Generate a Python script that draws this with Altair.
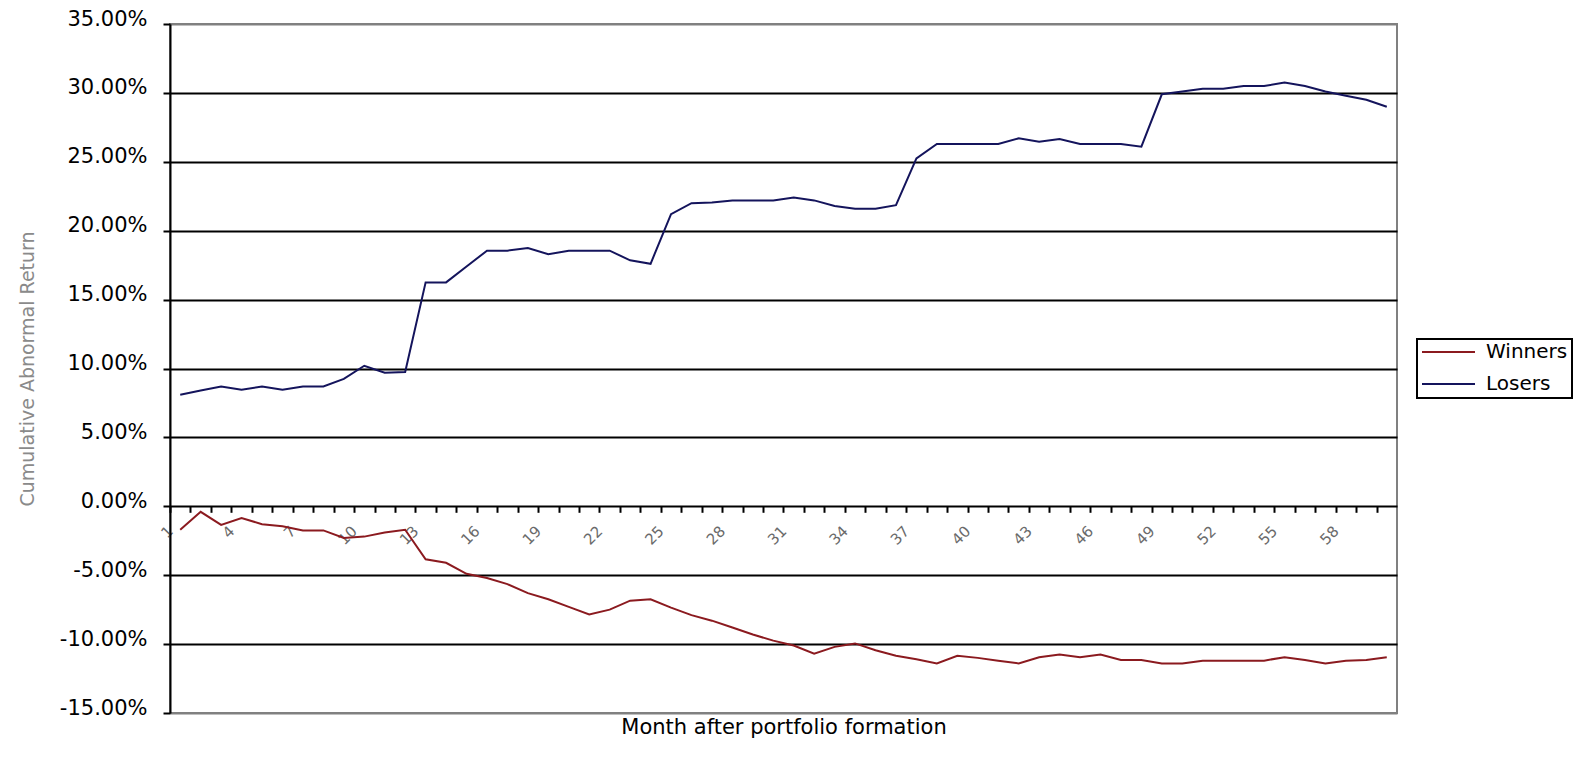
import altair as alt
import pandas as pd

# ---- data ----
months = list(range(1, 61))
winners = [-1.7, -0.4, -1.35, -0.85, -1.3, -1.45, -1.75, -1.75, -2.3, -2.2, -1.9, -1.7,
           -3.85, -4.1, -4.9, -5.2, -5.65, -6.3, -6.75, -7.3, -7.85, -7.5, -6.85, -6.75,
           -7.35, -7.9, -8.3, -8.8, -9.3, -9.75, -10.1, -10.7, -10.2, -9.95, -10.45, -10.85,
           -11.1, -11.4, -10.85, -11.0, -11.2, -11.4, -10.95, -10.75, -10.95, -10.75, -11.15, -11.15,
           -11.4, -11.4, -11.2, -11.2, -11.2, -11.2, -10.95, -11.15, -11.4, -11.2, -11.15, -10.95]
losers = [8.1, 8.4, 8.7, 8.45, 8.7, 8.45, 8.7, 8.7, 9.25, 10.2, 9.7, 9.75,
          16.25, 16.25, 17.4, 18.55, 18.55, 18.75, 18.3, 18.55, 18.55, 18.55, 17.85, 17.6,
          21.2, 22.0, 22.05, 22.2, 22.2, 22.2, 22.4, 22.2, 21.8, 21.6, 21.6, 21.85,
          25.25, 26.3, 26.3, 26.3, 26.3, 26.7, 26.45, 26.65, 26.3, 26.3, 26.3, 26.1,
          29.9, 30.1, 30.3, 30.3, 30.5, 30.5, 30.75, 30.5, 30.1, 29.8, 29.5, 29.0]
series_names = ["Winners", "Losers"]
series_colors = ["#8B1A1F", "#14145C"]
y_ticks = [-15, -10, -5, 0, 5, 10, 15, 20, 25, 30, 35]
y_min, y_max = -15, 35

x_title = "Month after portfolio formation"
y_title = "Cumulative Abnormal Return"

# ---- layout ----
W, H = 1227, 689
half_cat = W / len(months) / 2
zero_offset = -H * (0 - y_min) / (y_max - y_min)
axis_y_in_plot = H + zero_offset

df = pd.DataFrame({
    "Month": months * 2,
    "Return": winners + losers,
    "Series": ["Winners"] * len(months) + ["Losers"] * len(months),
})

x_axis = alt.Axis(
    values=months,
    tickOffset=-half_cat,
    labelExpr="(datum.value - 1) % 3 === 0 ? '' + datum.value : ''",
    labelAngle=-45,
    labelAlign="right",
    labelBaseline="middle",
    labelPadding=16,
    labelOverlap=False,
    labelFont="DejaVu Sans",
    labelFontSize=15,
    labelColor="#6a6a6a",
    tickSize=6,
    tickWidth=2,
    tickColor="black",
    domain=False,
    grid=False,
    offset=zero_offset,
    title=x_title,
    titleFont="DejaVu Sans",
    titleFontSize=21,
    titleFontWeight="normal",
    titleColor="black",
    titleBaseline="middle",
    titleY=703 - axis_y_in_plot,
)

y_axis = alt.Axis(
    values=y_ticks,
    labelExpr="(datum.value < 0 ? '-' + format(-datum.value, '.2f') : format(datum.value, '.2f')) + '%'",
    labelFont="DejaVu Sans",
    labelFontSize=21,
    labelColor="black",
    labelPadding=16,
    labelBaseline="middle",
    labelOffset=-5,
    tickSize=7,
    tickWidth=2,
    tickColor="black",
    domainColor="black",
    domainWidth=2,
    grid=True,
    gridColor={"condition": {"test": "datum.value === 35 || datum.value === -15", "value": "#808080"}, "value": "black"},
    gridWidth=2,
    title=y_title,
    titleFont="DejaVu Sans",
    titleFontSize=19,
    titleFontWeight="normal",
    titleColor="#8a8a8a",
    titleAngle=-90,
    titleAlign="center",
    titleBaseline="middle",
    titleX=-143,
    titleY=H / 2,
)

chart = alt.Chart(df).mark_line(strokeWidth=2).encode(
    x=alt.X("Month:Q", scale=alt.Scale(domain=[0.5, len(months) + 0.5], nice=False, zero=False), axis=x_axis),
    y=alt.Y("Return:Q", scale=alt.Scale(domain=[y_min, y_max], nice=False, zero=False), axis=y_axis),
    color=alt.Color(
        "Series:N",
        scale=alt.Scale(domain=series_names, range=series_colors),
        legend=alt.Legend(
            title=None,
            orient="none",
            legendX=1247,
            legendY=315,
            strokeColor="black",
            fillColor="white",
            padding=4,
            rowPadding=12,
            clipHeight=18,
            symbolType="stroke",
            symbolSize=2809,
            symbolStrokeWidth=2,
            labelFont="DejaVu Sans",
            labelFontSize=20,
            labelColor="black",
            labelOffset=10,
        ),
    ),
).properties(
    width=W,
    height=H,
    autosize=alt.AutoSizeParams(type="none"),
    padding={"left": 162, "top": 16, "right": 176, "bottom": 45},
).configure_view(
    stroke="#808080",
    strokeWidth=2,
).configure_legend(
    strokeWidth=2,
)

chart.save("out.html", embed_options={"renderer": "svg", "actions": False})
